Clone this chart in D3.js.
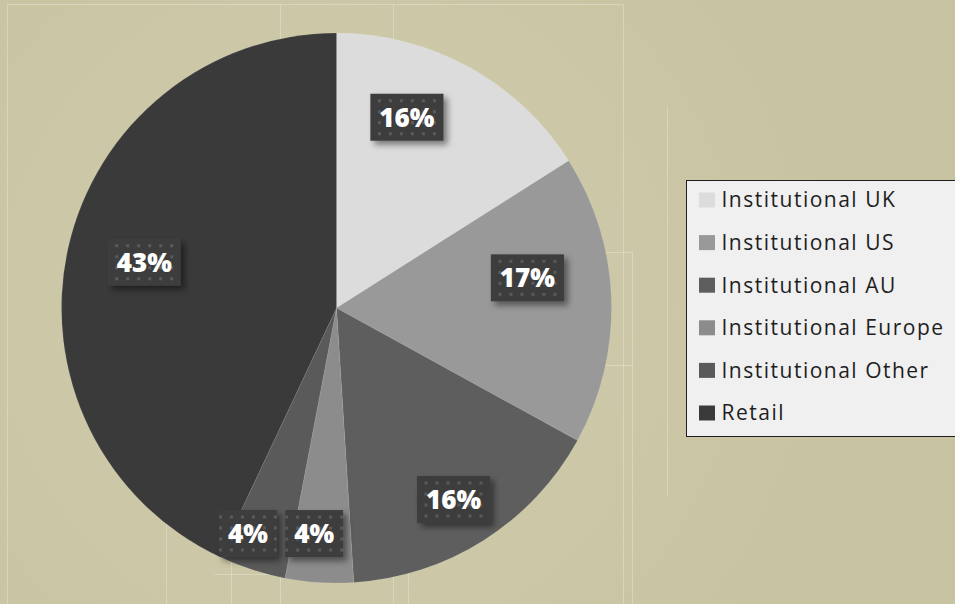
<!DOCTYPE html>
<html>
<head>
<meta charset="utf-8">
<script src="https://cdn.jsdelivr.net/npm/d3@7"></script>
<style>
  html, body { margin: 0; padding: 0; background: #c8c3a0; }
  svg { display: block; }
</style>
</head>
<body>
<div id="chart"></div>
<script>
// data
const categories = ["Institutional UK", "Institutional US", "Institutional AU",
                    "Institutional Europe", "Institutional Other", "Retail"];
const shares = [16, 17, 16, 4, 4, 43];
const sliceColors = ["#dcdcdc", "#999999", "#5e5e5e", "#8c8c8c", "#5a5a5a", "#3a3a3a"];

// label placement tweaks (px, relative to slice centroid)
const labelNudge = [[-24, -19], [-5, -24], [12, 26], [-10, 30], [-28, 39], [-1, -3]];

const width = 955, height = 604;
const cx = 336.5, cy = 308, radius = 275;

const svg = d3.select("#chart").append("svg")
  .attr("width", width)
  .attr("height", height);

const defs = svg.append("defs");

const bg = defs.append("radialGradient")
  .attr("id", "bg")
  .attr("gradientUnits", "userSpaceOnUse")
  .attr("cx", cx).attr("cy", cy).attr("r", 520);
bg.append("stop").attr("offset", "0%").attr("stop-color", "#d4d0b4");
bg.append("stop").attr("offset", "55%").attr("stop-color", "#ccc7a6");
bg.append("stop").attr("offset", "100%").attr("stop-color", "#c8c3a0");

const dots = defs.append("pattern")
  .attr("id", "dots")
  .attr("patternUnits", "userSpaceOnUse")
  .attr("width", 11).attr("height", 11);
dots.append("rect").attr("width", 11).attr("height", 11).attr("fill", "#3d3d3d");
dots.append("rect").attr("x", 4).attr("y", 4).attr("width", 3).attr("height", 3).attr("fill", "#5a5a5a");

const shadow = defs.append("filter")
  .attr("id", "shadow")
  .attr("x", "-30%").attr("y", "-30%").attr("width", "160%").attr("height", "160%");
shadow.append("feDropShadow")
  .attr("dx", 4).attr("dy", 4).attr("stdDeviation", 3)
  .attr("flood-color", "#000").attr("flood-opacity", 0.45);

svg.append("rect")
  .attr("width", width).attr("height", height)
  .attr("fill", "url(#bg)");

// faint decorative guide lines in the backdrop
const guides = [
  [7, 4, 7, 604], [7, 4, 623, 4], [623, 4, 623, 604], [280, 4, 280, 604],
  [393, 4, 393, 604], [408, 540, 408, 604], [667, 106, 667, 495],
  [605, 252, 632, 252], [605, 365, 632, 365], [632, 252, 632, 604],
  [166, 520, 166, 604], [214, 574, 300, 574], [231, 560, 231, 604]
];
svg.append("g")
  .selectAll("line")
  .data(guides)
  .join("line")
  .attr("x1", d => d[0] + 0.5).attr("y1", d => d[1] + 0.5)
  .attr("x2", d => d[2] + 0.5).attr("y2", d => d[3] + 0.5)
  .attr("stroke", "rgba(255,255,255,0.28)")
  .attr("stroke-width", 1);

const color = d3.scaleOrdinal().domain(categories).range(sliceColors);

const pie = d3.pie().sort(null).value(d => d.value);
const arcs = pie(categories.map((c, i) => ({ name: c, value: shares[i], idx: i })));

const arc = d3.arc().innerRadius(0).outerRadius(radius);
const labelArc = d3.arc().innerRadius(196).outerRadius(196);

const g = svg.append("g").attr("transform", `translate(${cx},${cy})`);

g.selectAll("path.slice")
  .data(arcs)
  .join("path")
  .attr("class", "slice")
  .attr("d", arc)
  .attr("fill", d => color(d.data.name))
  .attr("stroke", "rgba(255,255,255,0.15)")
  .attr("stroke-width", 0.6);

const labels = g.selectAll("g.lbl")
  .data(arcs)
  .join("g")
  .attr("class", "lbl")
  .attr("transform", d => {
    const [x, y] = labelArc.centroid(d);
    const n = labelNudge[d.data.idx];
    return `translate(${x + n[0]},${y + n[1]})`;
  });

labels.append("rect")
  .attr("fill", "url(#dots)")
  .attr("filter", "url(#shadow)");

labels.append("text")
  .attr("text-anchor", "middle")
  .attr("dy", "0.36em")
  .attr("fill", "#ffffff")
  .style("font-family", "'Open Sans', Inter, sans-serif")
  .style("font-weight", 800)
  .style("font-size", "26px")
  .text(d => d.data.value + "%");

labels.each(function() {
  const sel = d3.select(this);
  const tw = sel.select("text").node().getComputedTextLength();
  const w = tw + 18, h = 47;
  sel.select("rect")
    .attr("x", -w / 2).attr("y", -h / 2)
    .attr("width", w).attr("height", h);
});

// legend
const legend = svg.append("g").attr("transform", "translate(686.5,180.5)");
legend.append("rect")
  .attr("width", 290).attr("height", 256)
  .attr("fill", "#f0f0f0")
  .attr("stroke", "#1e1e1e")
  .attr("stroke-width", 1);

const rowY = d3.scalePoint().domain(categories).range([19.5, 232.5]);

const item = legend.selectAll("g.item")
  .data(categories)
  .join("g")
  .attr("class", "item")
  .attr("transform", d => `translate(0,${rowY(d)})`);

item.append("rect")
  .attr("x", 12.5).attr("y", -7.5)
  .attr("width", 16).attr("height", 15)
  .attr("fill", d => color(d));

item.append("text")
  .attr("x", 35)
  .attr("dy", "0.35em")
  .attr("fill", "#1e1e1e")
  .style("font-family", "'Open Sans', Inter, sans-serif")
  .style("font-size", "21px")
  .style("letter-spacing", "1.5px")
  .text(d => d);
</script>
</body>
</html>
